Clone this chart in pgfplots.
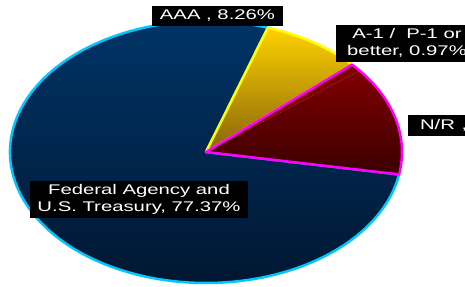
\documentclass[border=0pt]{standalone}
\usepackage{pgfplots}
\pgfplotsset{compat=1.18}
\usepackage{fontspec}
\setmainfont{Liberation Sans}
\usepackage{graphicx}

\definecolor{navyT}{RGB}{0,54,106}
\definecolor{navyB}{RGB}{0,22,48}
\definecolor{yelT}{RGB}{255,210,0}
\definecolor{yelB}{RGB}{135,100,10}
\definecolor{redT}{RGB}{128,0,0}
\definecolor{redB}{RGB}{58,0,0}
\definecolor{cyanB}{RGB}{0,200,255}
\definecolor{magB}{RGB}{255,0,255}
\definecolor{yelL}{RGB}{255,255,0}

% slice values (percent)
\def\vFed{77.37}
\def\vNR{13.40}
\def\vAone{0.97}
\def\vAAA{8.26}
\def\startang{71.6}

\newcommand{\lbl}[1]{\scalebox{1.45}[1]{\begin{tabular}{@{}c@{}}#1\end{tabular}}}

\begin{document}
\begin{tikzpicture}
\useasboundingbox (0,0) rectangle (465pt,286pt);
\clip (0,0) rectangle (465pt,286pt);
\pgfmathsetmacro{\aA}{\startang}
\pgfmathsetmacro{\aB}{\aA+3.6*\vFed}
\pgfmathsetmacro{\aC}{\aB+3.6*\vNR}
\pgfmathsetmacro{\aD}{\aC+3.6*\vAone}
\pgfmathsetmacro{\aE}{\aD+3.6*\vAAA}
\begin{axis}[at={(206pt,134pt)}, anchor=origin, x=196pt, y=131pt,
  xmin=-1, xmax=1, ymin=-1, ymax=1, hide axis, clip=false]
 % Federal Agency and U.S. Treasury
 \path[draw=cyanB, line width=2.5pt, line join=round, top color=navyT, bottom color=navyB]
   (axis cs:0,0) -- (axis cs:{cos(\aA)},{sin(\aA)})
   arc[start angle=\aA, end angle=\aB, x radius=196pt, y radius=131pt] -- cycle;
 % AAA
 \path[draw=yelL, line width=2.5pt, line join=round, top color=yelT, bottom color=yelB]
   (axis cs:0,0) -- (axis cs:{cos(\aD)},{sin(\aD)})
   arc[start angle=\aD, end angle=\aE, x radius=196pt, y radius=131pt] -- cycle;
 % N/R
 \path[top color=redT, bottom color=redB]
   (axis cs:0,0) -- (axis cs:{cos(\aB)},{sin(\aB)})
   arc[start angle=\aB, end angle=\aC, x radius=196pt, y radius=131pt] -- cycle;
 % A-1 / P-1 or better
 \path[fill=redT]
   (axis cs:0,0) -- (axis cs:{cos(\aC)},{sin(\aC)})
   arc[start angle=\aC, end angle=\aD, x radius=196pt, y radius=131pt] -- cycle;
 % common outline of N/R and A-1
 \path[draw=magB, line width=2.5pt, line join=round]
   (axis cs:0,0) -- (axis cs:{cos(\aB)},{sin(\aB)})
   arc[start angle=\aB, end angle=\aD, x radius=196pt, y radius=131pt] -- cycle;
\end{axis}
\begin{scope}[every node/.style={fill=black, text=white, inner sep=0pt,
   font=\fontsize{14}{16.5}\selectfont}]
 \node[minimum width=131pt, minimum height=20pt] at (217.5pt,270pt) {\lbl{AAA , 8.26\%}};
 \node[minimum width=142pt, minimum height=37pt] at (407pt,242.5pt) {\lbl{A-1 /\ \ P-1 or\\better, 0.97\%}};
 \node[minimum width=150pt, minimum height=21pt, text width=150pt] at (483pt,160.5pt) {\hspace*{12pt}\scalebox{1.45}[1]{N/R , 13.40\%}};
 \node[minimum width=218pt, minimum height=37pt] at (139pt,86.5pt) {\lbl{Federal Agency and\\U.S. Treasury, 77.37\%}};
\end{scope}
\end{tikzpicture}
\end{document}
